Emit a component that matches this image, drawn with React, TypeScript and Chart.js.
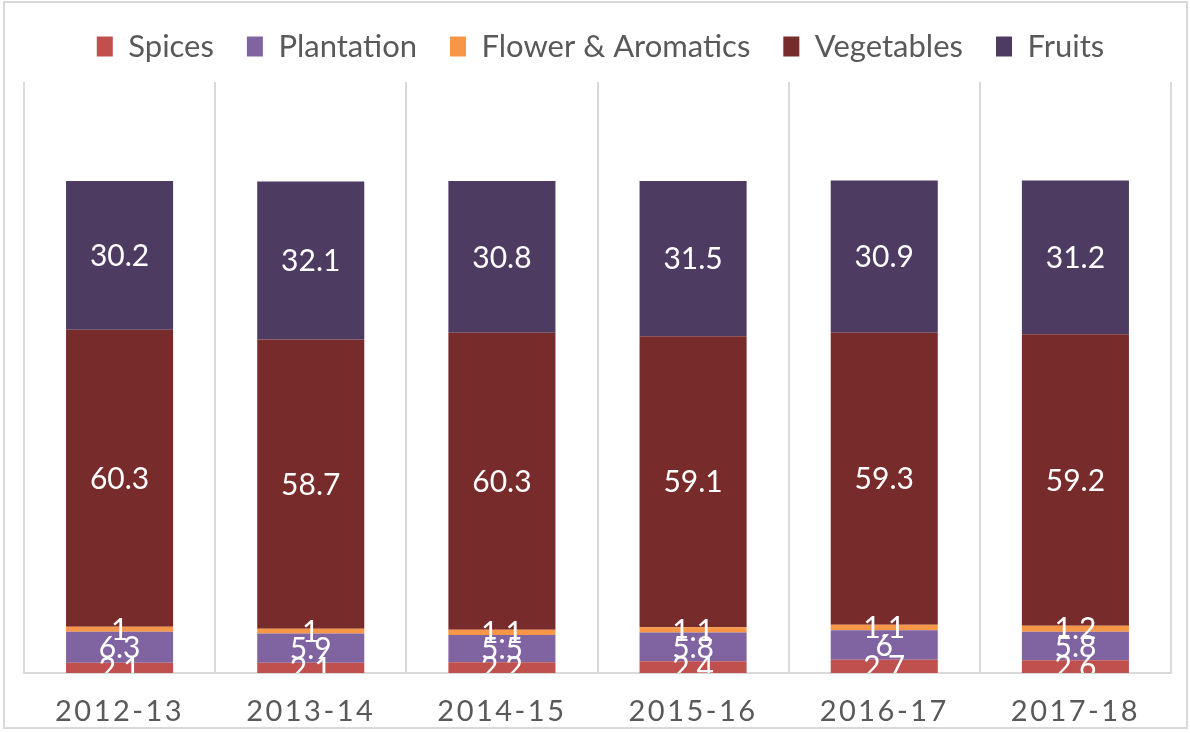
import React, { useEffect, useRef } from "react";
import { Chart, registerables } from "chart.js";

Chart.register(...registerables);

const categories = ["2012-13", "2013-14", "2014-15", "2015-16", "2016-17", "2017-18"];
const spices = [2.1, 2.1, 2.2, 2.4, 2.7, 2.6];
const plantation = [6.3, 5.9, 5.5, 5.8, 6, 5.8];
const flowerAromatics = [1, 1, 1.1, 1.1, 1.1, 1.2];
const vegetables = [60.3, 58.7, 60.3, 59.1, 59.3, 59.2];
const fruits = [30.2, 32.1, 30.8, 31.5, 30.9, 31.2];
const seriesNames = ["Spices", "Plantation", "Flower & Aromatics", "Vegetables", "Fruits"];
const seriesColors = ["#C0504D", "#8064A2", "#F79646", "#772B2A", "#4D3B62"];
const yMin = 0;
const yMax = 120;

const FONT = "Lato, 'Open Sans', sans-serif";

const framePlugin = {
  id: "frame",
  beforeDraw(chart: any) {
    const ctx = chart.ctx;
    ctx.save();
    ctx.strokeStyle = "#d9d9d9";
    ctx.lineWidth = 2;
    ctx.strokeRect(4, 2, 1183, 726);
    ctx.restore();
  },
};

const legendShiftPlugin = {
  id: "legendShift",
  afterLayout(chart: any) {
    const l = chart.legend;
    if (!l) return;
    l.left += 3;
    l.right += 3;
    l.top -= 10;
    l.bottom -= 10;
  },
};

const valueLabelPlugin = {
  id: "valueLabels",
  afterDatasetsDraw(chart: any) {
    const ctx = chart.ctx;
    const area = chart.chartArea;
    ctx.save();
    ctx.beginPath();
    ctx.rect(area.left, area.top, area.right - area.left, area.bottom - area.top);
    ctx.clip();
    ctx.fillStyle = "#ffffff";
    ctx.font = `30px ${FONT}`;
    ctx.textAlign = "center";
    ctx.textBaseline = "middle";
    chart.data.datasets.forEach((ds: any, di: number) => {
      const meta = chart.getDatasetMeta(di);
      meta.data.forEach((el: any, i: number) => {
        const { x, y, base } = el.getProps(["x", "y", "base"], true);
        ctx.fillText(String(ds.data[i]), x, (y + base) / 2 + 1);
      });
    });
    ctx.restore();
    // letter spacing for x tick labels (drawn after datasets)
    ctx.letterSpacing = "2.5px";
  },
  afterDraw(chart: any) {
    chart.ctx.letterSpacing = "0px";
  },
};

export default function App() {
  const ref = useRef<HTMLCanvasElement>(null);

  useEffect(() => {
    if (!ref.current) return;
    const seriesData = [spices, plantation, flowerAromatics, vegetables, fruits];
    const chart = new Chart(ref.current, {
      type: "bar",
      data: {
        labels: categories,
        datasets: seriesData.map((d, i) => ({
          label: seriesNames[i],
          data: d,
          backgroundColor: seriesColors[i],
          borderWidth: 0,
          categoryPercentage: 1,
          barPercentage: 0.56,
        })),
      },
      options: {
        responsive: false,
        animation: false,
        devicePixelRatio: 1,
        layout: { padding: { left: 24, right: 19, top: 8, bottom: 7 } },
        plugins: {
          legend: {
            position: "top",
            labels: {
              font: { family: FONT, size: 31 },
              color: "#595959",
              boxWidth: 16,
              boxHeight: 20,
              padding: 33,
            },
          },
          tooltip: { enabled: false },
        },
        scales: {
          x: {
            stacked: true,
            grid: {
              color: "#d9d9d9",
              lineWidth: 2,
              drawTicks: false,
              offset: true,
            },
            border: { color: "#d9d9d9", width: 2 },
            ticks: {
              font: { family: FONT, size: 29 },
              color: "#595959",
              padding: 21,
              z: 1,
            },
            afterFit(scale: any) {
              scale.height = 53;
            },
          },
          y: {
            stacked: true,
            display: false,
            min: yMin,
            max: yMax,
          },
        },
      },
      plugins: [framePlugin, legendShiftPlugin, valueLabelPlugin],
    });
    return () => chart.destroy();
  }, []);

  return (
    <div style={{ position: "absolute", left: 0, top: 0, width: 1190, height: 733, background: "#fff" }}>
      <canvas ref={ref} width={1190} height={733} />
    </div>
  );
}
